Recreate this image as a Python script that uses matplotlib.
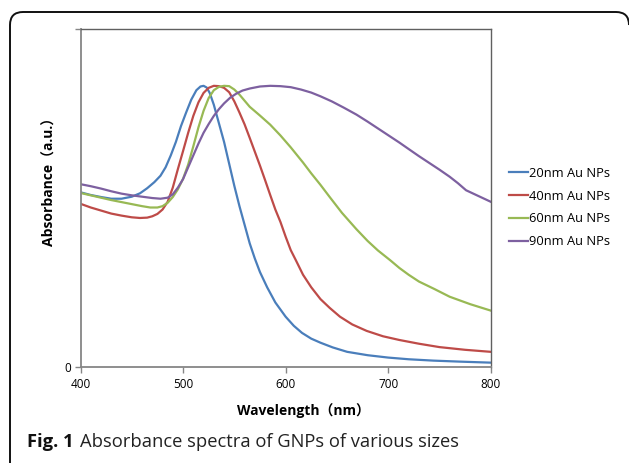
import matplotlib
matplotlib.use("Agg")
import matplotlib.pyplot as plt
from matplotlib.patches import PathPatch
from matplotlib.path import Path
from matplotlib.transforms import Affine2D

plt.rcParams['font.family'] = ['Open Sans', 'Noto Sans CJK SC', 'DejaVu Sans']

# ---- data ----
wl_20 = [400, 410, 420, 430, 440, 450, 458, 465, 472, 478, 483, 488, 493, 498, 503, 508,
         513, 517, 520, 523, 526, 530, 535, 540, 545, 550, 555, 560, 565, 570, 575, 582,
         590, 600, 608, 616, 625, 634, 646, 660, 680, 700, 720, 744, 770, 800]
ab_20 = [0.516, 0.508, 0.502, 0.497, 0.497, 0.503, 0.513, 0.528, 0.546, 0.565, 0.590,
         0.625, 0.665, 0.712, 0.752, 0.790, 0.818, 0.829, 0.831, 0.826, 0.810, 0.775,
         0.720, 0.665, 0.600, 0.535, 0.475, 0.420, 0.365, 0.320, 0.280, 0.235, 0.190,
         0.148, 0.121, 0.100, 0.083, 0.071, 0.057, 0.044, 0.034, 0.027, 0.022, 0.018,
         0.015, 0.012]

wl_40 = [400, 410, 420, 430, 440, 450, 458, 465, 470, 475, 480, 485, 490, 495, 500, 505,
         510, 515, 520, 525, 530, 535, 540, 545, 550, 555, 560, 565, 570, 575, 580, 585,
         590, 595, 600, 605, 610, 617, 625, 634, 643, 653, 665, 679, 695, 711, 730, 750,
         775, 800]
ab_40 = [0.482, 0.471, 0.462, 0.453, 0.447, 0.442, 0.440, 0.441, 0.445, 0.452, 0.465,
         0.488, 0.530, 0.585, 0.638, 0.692, 0.742, 0.782, 0.810, 0.825, 0.831, 0.830,
         0.825, 0.812, 0.785, 0.752, 0.717, 0.677, 0.636, 0.595, 0.552, 0.508, 0.465,
         0.428, 0.385, 0.345, 0.315, 0.272, 0.235, 0.200, 0.174, 0.148, 0.125, 0.106,
         0.090, 0.079, 0.068, 0.058, 0.050, 0.044]

wl_60 = [400, 410, 420, 430, 440, 450, 460, 468, 475, 480, 485, 490, 495, 500, 505, 510,
         515, 520, 525, 530, 535, 540, 545, 550, 555, 560, 565, 575, 585, 595, 605, 617,
         625, 634, 643, 655, 669, 680, 690, 702, 711, 720, 730, 745, 760, 780, 800]
ab_60 = [0.514, 0.507, 0.500, 0.493, 0.487, 0.481, 0.475, 0.471, 0.471, 0.475, 0.485,
         0.502, 0.525, 0.556, 0.598, 0.652, 0.708, 0.757, 0.795, 0.818, 0.828, 0.831,
         0.830, 0.820, 0.805, 0.787, 0.769, 0.743, 0.716, 0.684, 0.649, 0.604, 0.572,
         0.538, 0.502, 0.455, 0.407, 0.372, 0.344, 0.315, 0.292, 0.272, 0.252, 0.230,
         0.207, 0.185, 0.166]

wl_90 = [400, 410, 420, 430, 440, 450, 460, 470, 478, 485, 490, 495, 500, 505, 510, 515,
         520, 525, 530, 535, 540, 546, 552, 558, 565, 575, 585, 595, 605, 615, 625, 634,
         645, 657, 669, 680, 690, 700, 711, 720, 730, 740, 750, 760, 768, 776, 788, 800]
ab_90 = [0.540, 0.534, 0.527, 0.519, 0.512, 0.507, 0.503, 0.499, 0.497, 0.500, 0.510,
         0.530, 0.555, 0.590, 0.625, 0.660, 0.692, 0.718, 0.742, 0.762, 0.779, 0.796,
         0.808, 0.817, 0.823, 0.829, 0.831, 0.830, 0.827, 0.820, 0.811, 0.800, 0.785,
         0.766, 0.746, 0.725, 0.705, 0.685, 0.663, 0.644, 0.623, 0.603, 0.583, 0.562,
         0.543, 0.522, 0.505, 0.488]

labels = ['20nm Au NPs', '40nm Au NPs', '60nm Au NPs', '90nm Au NPs']
colors = ['#4A7EBB', '#BE4B48', '#98B954', '#7D60A0']
x_ticks = [400, 500, 600, 700, 800]
y_ticks = [0, 1]
y_ticklabels = ['0', '']

W, H = 629, 463
fig = plt.figure(figsize=(W / 100, H / 100), dpi=100)

# rounded frame: left side, top side and top corners (rest is outside the picture)
px = Affine2D().scale(1 / W, -1 / H).translate(0, 1) + fig.transFigure
verts = [(10, 475), (10, 25), (10, 12), (23, 12), (616, 12), (629, 12), (629, 25)]
codes = [Path.MOVETO, Path.LINETO, Path.CURVE3, Path.CURVE3, Path.LINETO,
         Path.CURVE3, Path.CURVE3]
fig.patches.append(PathPatch(Path(verts, codes), transform=px, fill=False,
                             edgecolor='#111111', linewidth=1.4))

ax = fig.add_axes([80.5 / W, (H - 366.7) / H, (490.7 - 80.5) / W, (366.7 - 28.7) / H])

series = [(wl_20, ab_20), (wl_40, ab_40), (wl_60, ab_60), (wl_90, ab_90)]
for (x, y), lab, c in zip(series, labels, colors):
    ax.plot(x, y, color=c, linewidth=1.6, label=lab, solid_joinstyle='round')

ax.set_xlim(400, 800)
ax.set_ylim(0, 1)
ax.set_xticks(x_ticks)
ax.set_xticklabels([str(t) for t in x_ticks])
ax.set_yticks(y_ticks)
ax.set_yticklabels(y_ticklabels)
ax.tick_params(axis='both', direction='out', length=4, width=1, color='#868686',
               labelsize=8.5, pad=3)
ax.tick_params(axis='x', pad=4)
for s in ['left', 'bottom']:
    ax.spines[s].set_color('#868686')
    ax.spines[s].set_linewidth(1.3)
for s in ['top', 'right']:
    ax.spines[s].set_color('#606060')
    ax.spines[s].set_linewidth(1.0)

ax.set_xlabel('Wavelength（nm）', fontsize=10, fontweight='bold')
ax.xaxis.set_label_coords((303 - 80.5) / 410.2, (366.7 - 403) / 338)
ax.set_ylabel('Absorbance（a.u.）', fontsize=10, fontweight='bold')
ax.yaxis.set_label_coords((57 - 80.5) / 410.2, (366.7 - 178) / 338)

leg = ax.legend(loc='center left', bbox_to_anchor=((509 - 80.5) / 410.2, (366.7 - 207.5) / 338),
                frameon=False, fontsize=9.3, handlelength=1.5, handletextpad=0.08,
                labelspacing=0.75, borderaxespad=0, borderpad=0)

# caption
t1 = fig.text(27 / W, (H - 447) / H, 'Fig. 1', fontsize=13.2, fontweight='bold',
              ha='left', va='baseline', color='#111111')
fig.canvas.draw()
r = fig.canvas.get_renderer()
bb = t1.get_window_extent(r)
fig.text((bb.x1 + 6) / W, (H - 447) / H, 'Absorbance spectra of GNPs of various sizes',
         fontsize=13.2, ha='left', va='baseline', color='#222222')

fig.savefig('out.png', dpi=100)
